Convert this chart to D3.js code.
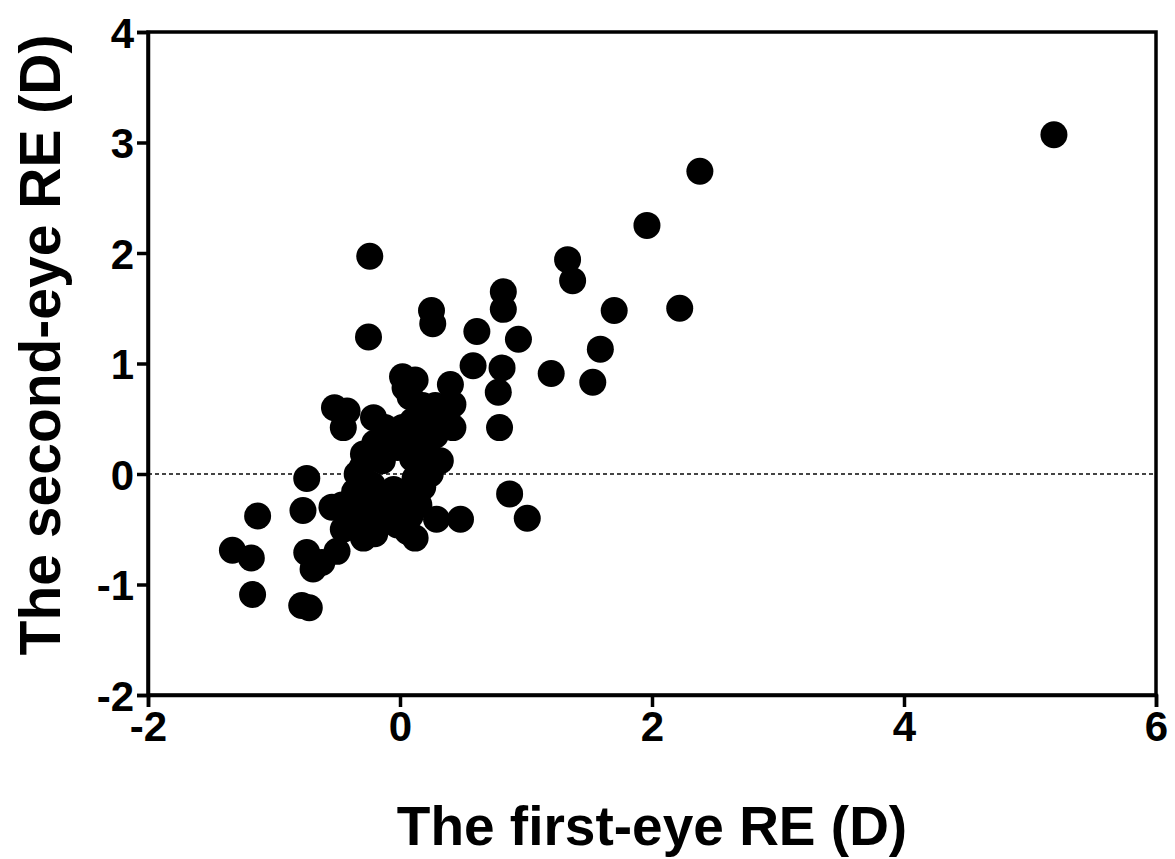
<!DOCTYPE html>
<html><head><meta charset="utf-8">
<script src="https://cdn.jsdelivr.net/npm/d3@7"></script>
<style>body{margin:0;background:#fff;} text{font-family:"Liberation Sans",Arial,sans-serif;font-weight:bold;}</style>
</head><body>
<script>
const xTicks=[-2,0,2,4,6];
const yTicks=[-2,-1,0,1,2,3,4];
const xTitle="The first-eye RE (D)";
const yTitle="The second-eye RE (D)";
const firstEye=[5.19,2.38,1.96,2.22,1.33,1.37,1.70,1.59,1.53,1.20,0.94,0.82,0.82,0.61,0.58,0.81,0.78,0.79,0.87,1.01,0.48,0.29,
-0.24,-0.25,0.25,0.26,0.40,0.42,0.42,-0.52,-0.42,-0.45,-0.21,-0.29,
-0.74,-1.13,-0.77,-0.54,-1.33,-1.18,-0.74,-0.69,-1.17,-0.78,-0.72,-0.50,-0.62,-0.45,-0.29,-0.26,-0.46,
0.02,0.12,0.04,0.08,0.18,0.25,0.10,0.02,0.18,0.28,0.14,0.05,-0.02,0.21,0.32,-0.14,-0.30,-0.34,-0.30,0.24,0.12,-0.22,-0.05,0.02,0.18,-0.28,-0.14,0.04,0.08,-0.32,-0.18,0.06,0.12,-0.02,-0.20,-0.08,0.28,0.34,-0.12,
-0.20,-0.10,0.15,0.10,-0.36];
const secondEye=[3.07,2.74,2.25,1.50,1.94,1.75,1.48,1.13,0.83,0.91,1.22,1.65,1.49,1.29,0.98,0.96,0.74,0.42,-0.18,-0.40,-0.41,-0.41,
1.97,1.24,1.48,1.36,0.81,0.63,0.42,0.60,0.57,0.42,0.51,0.18,
-0.04,-0.38,-0.33,-0.30,-0.69,-0.76,-0.71,-0.86,-1.09,-1.19,-1.21,-0.70,-0.80,-0.50,-0.58,-0.50,-0.28,
0.88,0.85,0.78,0.70,0.62,0.55,0.48,0.42,0.40,0.35,0.30,0.24,0.24,0.22,0.12,0.12,0.06,0.00,-0.06,0.00,-0.04,-0.10,-0.14,-0.18,-0.12,-0.24,-0.28,-0.26,-0.38,-0.38,-0.44,-0.52,-0.58,-0.46,-0.54,0.30,0.62,0.48,0.42,
0.28,-0.32,-0.28,0.14,-0.16];

const W=1175,H=859;
const m={l:148,r:1156,t:32,b:695};
const svg=d3.select("body").append("svg").attr("width",W).attr("height",H);
const x=d3.scaleLinear().domain([-2,6]).range([m.l,m.r]);
const y=d3.scaleLinear().domain([-2,4]).range([m.b,m.t]);

// zero reference line
svg.append("line").attr("x1",x(-2)).attr("x2",x(6)).attr("y1",y(0)).attr("y2",y(0))
  .attr("stroke","#444").attr("stroke-width",2).attr("stroke-dasharray","4,3");

// points
svg.append("g").selectAll("circle").data(firstEye.map((v,i)=>[v,secondEye[i]])).join("circle")
  .attr("cx",d=>x(d[0])).attr("cy",d=>y(d[1])).attr("r",13.5).attr("fill","#000");

// frame
svg.append("rect").attr("x",m.l).attr("y",m.t).attr("width",m.r-m.l).attr("height",m.b-m.t)
  .attr("fill","none").attr("stroke","#000").attr("stroke-width",3.5);

const xa=svg.append("g").attr("transform",`translate(0,${m.b})`)
  .call(d3.axisBottom(x).tickValues(xTicks).tickSize(12).tickPadding(4).tickFormat(d3.format("d")));
const ya=svg.append("g").attr("transform",`translate(${m.l},0)`)
  .call(d3.axisLeft(y).tickValues(yTicks).tickSize(11).tickPadding(3).tickFormat(d3.format("d")));
[xa,ya].forEach(a=>{
  a.select(".domain").attr("stroke-width",3.5);
  a.selectAll(".tick line").attr("stroke-width",3.5);
  a.selectAll(".tick text").attr("fill","#000")
    .style("font-size","42px").style("font-family","Liberation Sans, Arial, sans-serif").style("font-weight","bold");
});
xa.selectAll(".tick text").text(d=>d<0?"-"+Math.abs(d):d);
ya.selectAll(".tick text").text(d=>d<0?"-"+Math.abs(d):d).attr("dy","0.36em");

svg.append("text").attr("x",652).attr("y",845).attr("text-anchor","middle")
  .style("font-size","55px").text(xTitle);
svg.append("text").attr("transform",`translate(60,345) rotate(-90)`).attr("text-anchor","middle")
  .style("font-size","57px").text(yTitle);
</script>
</body></html>
